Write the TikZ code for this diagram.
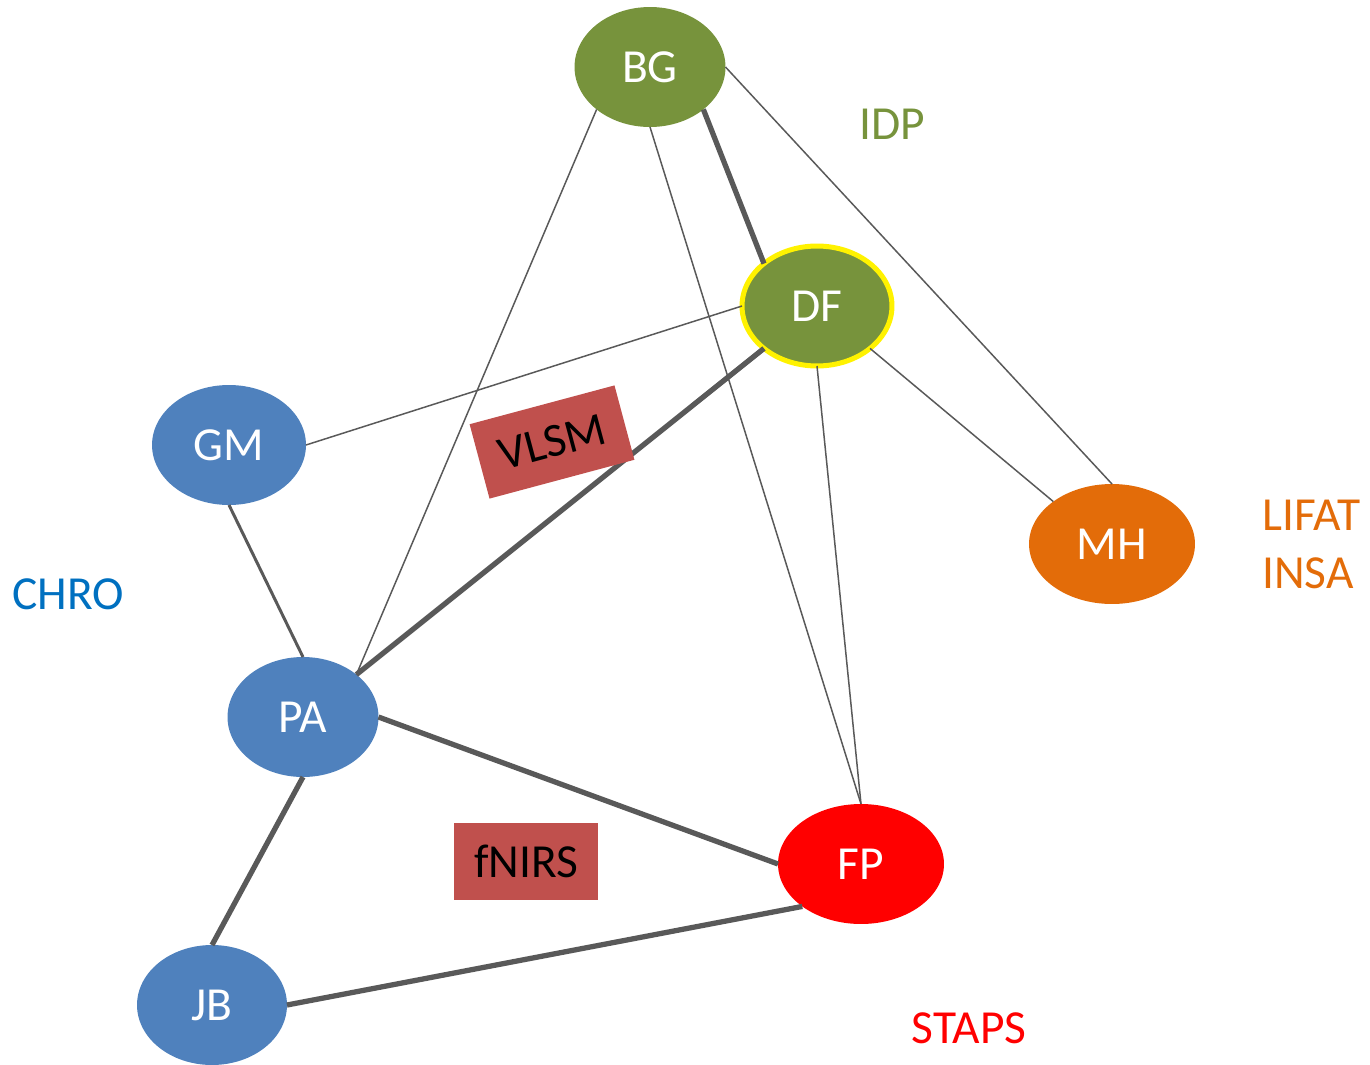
\documentclass[tikz,border=0pt]{standalone}
\usepackage{fontspec}
\setmainfont{Carlito}
\usetikzlibrary{shapes.geometric}
\definecolor{olive}{HTML}{77933C}
\definecolor{blu}{HTML}{4F81BD}
\definecolor{orng}{HTML}{E36C09}
\definecolor{chro}{HTML}{0070C0}
\definecolor{redbox}{HTML}{C0504D}
\definecolor{edge}{HTML}{595959}
\begin{document}
\begin{tikzpicture}[x=0.02cm,y=-0.02cm,
  person/.style={ellipse,inner sep=0pt,outer sep=0pt,minimum width=3cm,minimum height=2.4cm,text=white,font=\fontsize{27}{30}\selectfont},
  grp/.style={font=\fontsize{27}{30}\selectfont,inner sep=0pt},
  method/.style={rectangle,fill=redbox,inner sep=0pt,minimum width=2.9cm,minimum height=1.54cm,font=\fontsize{27}{30}\selectfont,text=black},
  thin/.style={draw=edge,line width=0.85pt},
  med/.style={draw=edge,line width=1.7pt},
  thick/.style={draw=edge,line width=3pt}]
\useasboundingbox (0,0) rectangle (1370,1065);
\node[person,fill=olive,minimum width=3.02cm] (BG) at (650,67) {BG};
\node[person,fill=olive,draw=yellow,line width=2.85pt] (DF) at (817,306) {DF};
\node[person,fill=blu,minimum width=3.08cm] (GM) at (229,445) {GM};
\node[person,fill=blu,minimum width=3.02cm] (PA) at (303,717) {PA};
\node[person,fill=blu] (JB) at (212,1005) {JB};
\node[person,fill=red,minimum width=3.32cm] (FP) at (861,864) {FP};
\node[person,fill=orng,minimum width=3.32cm] (MH) at (1112,544) {MH};
\draw[thick] (BG.south east) -- (DF.north west);
\draw[thin] (BG.east) -- (MH.north);
\draw[thin] (BG.south west) -- (PA.north east);
\draw[thin] (BG.south) -- (FP.north);
\draw[thin] (DF.west) -- (GM.east);
\draw[thick] (DF.south west) -- (PA.north east);
\draw[thin] (DF.south) -- (FP.north);
\draw[thin] (DF.south east) -- (MH.north west);
\draw[med] (GM.south) -- (PA.north);
\draw[thick] (PA.east) -- (FP.west);
\draw[thick] (PA.south) -- (JB.north);
\draw[thick] (JB.east) -- (FP.south west);
\node[method,rotate=15,minimum width=3cm] (VLSM) at (552,442) {VLSM};
\node[method] (fNIRS) at (526,861) {fNIRS};
\node[grp,text=olive] (IDP) at (892,124) {IDP};
\node[grp,text=orng,anchor=west] (LIFAT) at (1262,515) {LIFAT};
\node[grp,text=orng,anchor=west] (INSA) at (1262,573) {INSA};
\node[grp,text=chro] (CHRO) at (68,594) {CHRO};
\node[grp,text=red] (STAPS) at (969,1028) {STAPS};
\end{tikzpicture}
\end{document}
